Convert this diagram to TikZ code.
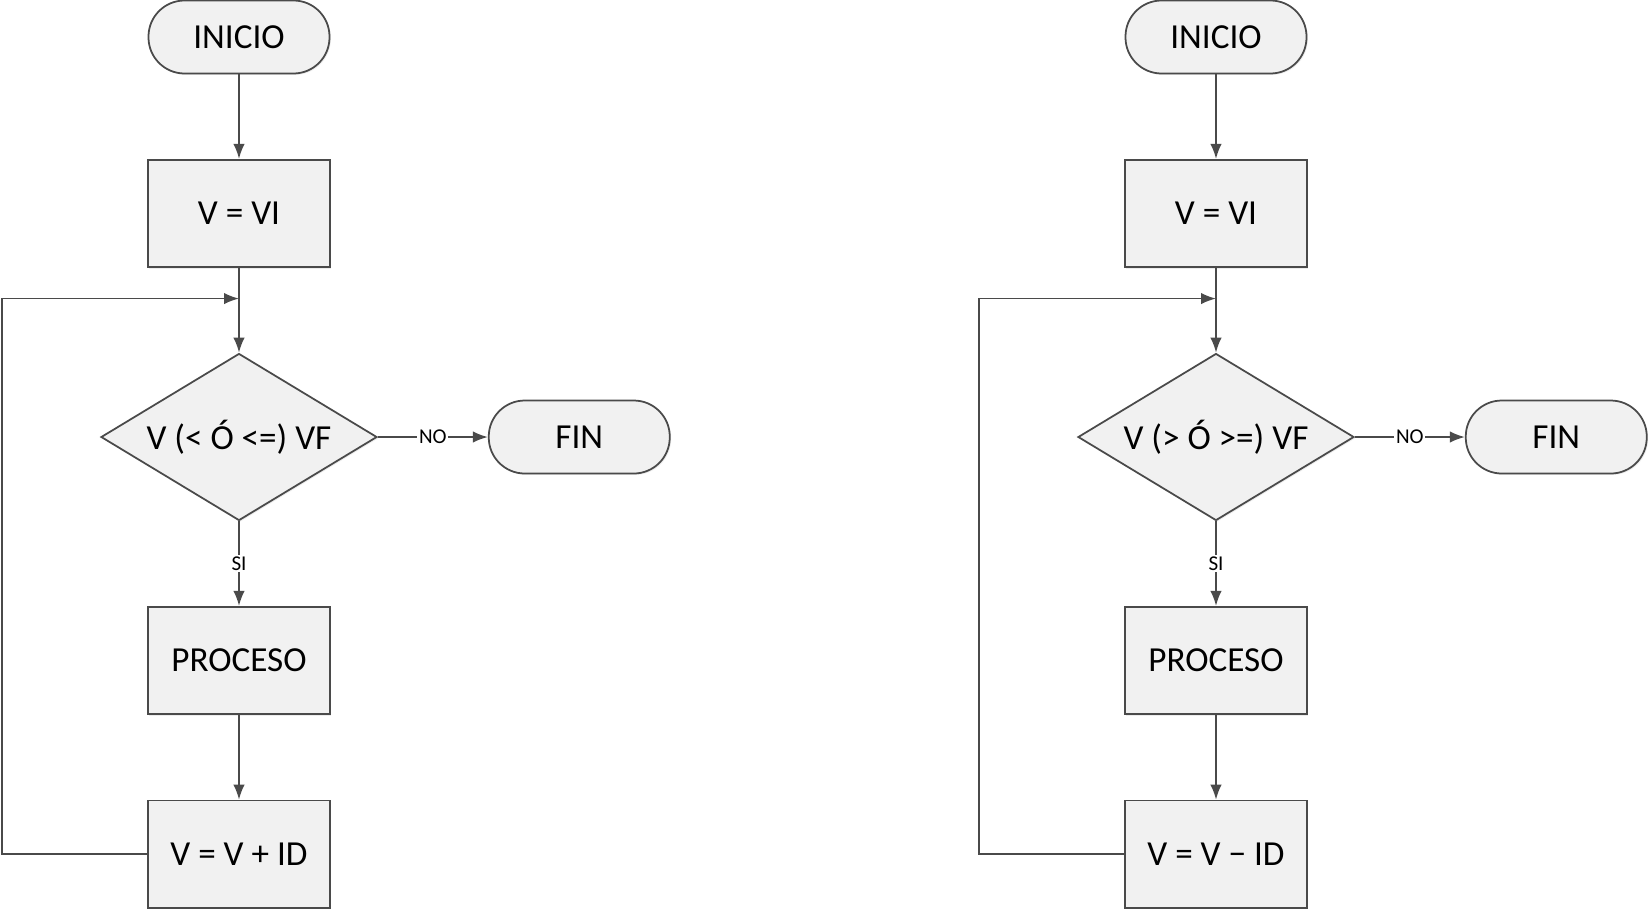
\documentclass[tikz,border=0pt]{standalone}
\usepackage{fontspec}
\setmainfont{Carlito}
\usetikzlibrary{arrows.meta,calc,positioning,shapes.geometric,shadows}
\tikzset{every picture/.style={
  >={Latex[length=8.5pt,width=6.5pt]}   % Filled arrow heads.
  }
}
\definecolor{lineclr}{HTML}{4A4A4A}
\definecolor{boxclr}{HTML}{F1F1F1}

\begin{document}
\begin{tikzpicture}[
    node distance=1.69cm,
    font=\fontsize{20}{24}\selectfont,
    flow/.style={
      ->,
      line width=1pt,
      draw=lineclr
    },
    base/.style={
      draw=lineclr,
      line width=1pt,
      fill=boxclr,
      drop shadow={opacity=0.15,shadow xshift=0.8pt,shadow yshift=-0.8pt}
    },
    term/.style={
      base,
      rectangle,
      rounded corners=0.72cm,
      minimum width=3.62cm,
      minimum height=1.46cm
    },
    proc/.style={
      base,
      rectangle,
      minimum width=3.64cm,
      minimum height=2.15cm
    },
    test/.style={
      base,
      diamond,
      aspect=1.65,
      inner sep=0pt,
      minimum width=5.52cm,
      minimum height=3.34cm
    },
    tag/.style={
      font=\fontsize{12}{13}\selectfont,
      fill=white,
      inner sep=1pt
    }]

    \useasboundingbox (0,0) rectangle (32.98,-18.3);

    % Counting loop going up.
    \node[term] (ini1) at (4.78,-0.74) {INICIO};
    \node[proc,below=of ini1] (vi1) {V = VI};
    \node[test,below=of vi1]  (dec1) {V (< Ó <=) VF};
    \node[term,right=2.2cm of dec1] (fin1) {FIN};
    \node[proc,below=of dec1] (pro1) {PROCESO};
    \node[proc,below=of pro1] (upd1) {V = V + ID};
    \coordinate (join1) at ($(vi1.south)!0.36!(dec1.north)$);

    \draw[flow] (ini1) -- (vi1);
    \draw[flow] (vi1) -- (dec1);
    \draw[flow] (dec1) -- node[tag] {NO} (fin1);
    \draw[flow] (dec1) -- node[tag] {SI} (pro1);
    \draw[flow] (pro1) -- (upd1);
    \draw[flow] (upd1.west) -- ++(-2.9,0) |- (join1);

    % Counting loop going down.
    \node[term] (ini2) at (24.32,-0.74) {INICIO};
    \node[proc,below=of ini2] (vi2) {V = VI};
    \node[test,below=of vi2]  (dec2) {V (> Ó >=) VF};
    \node[term,right=2.2cm of dec2] (fin2) {FIN};
    \node[proc,below=of dec2] (pro2) {PROCESO};
    \node[proc,below=of pro2] (upd2) {V = V − ID};
    \coordinate (join2) at ($(vi2.south)!0.36!(dec2.north)$);

    \draw[flow] (ini2) -- (vi2);
    \draw[flow] (vi2) -- (dec2);
    \draw[flow] (dec2) -- node[tag] {NO} (fin2);
    \draw[flow] (dec2) -- node[tag] {SI} (pro2);
    \draw[flow] (pro2) -- (upd2);
    \draw[flow] (upd2.west) -- ++(-2.9,0) |- (join2);
  \end{tikzpicture}
\end{document}
